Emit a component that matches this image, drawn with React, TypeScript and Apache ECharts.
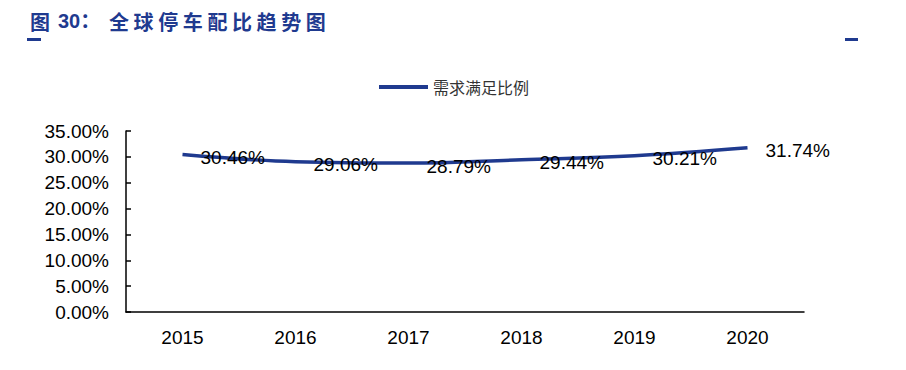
import React, { useEffect, useRef } from "react";
import * as echarts from "echarts";

const categories = ["2015", "2016", "2017", "2018", "2019", "2020"];
const ratioValues = [0.3046, 0.2906, 0.2879, 0.2944, 0.3021, 0.3174];
const seriesName = "需求满足比例";
const titleHead = "图";
const titleNum = "30：";
const titleChars = ["全", "球", "停", "车", "配", "比", "趋", "势", "图"];

const BLUE = "#1f3a8f";

export default function App() {
  const ref = useRef<HTMLDivElement>(null);
  useEffect(() => {
    if (!ref.current) return;
    const chart = echarts.init(ref.current, null, { renderer: "svg" });
    const titleFont = { fontSize: 20, fontWeight: "bold" as const, fill: BLUE, fontFamily: "Noto Sans CJK SC" };
    const titleEls: any[] = [
      { type: "text", x: 30, y: 11, style: { ...titleFont, text: titleHead } },
      { type: "text", x: 58, y: 11, style: { ...titleFont, text: titleNum, fontFamily: "Liberation Sans, Noto Sans CJK SC" } },
      ...titleChars.map((c, i) => ({ type: "text", x: 109 + i * 24.6, y: 11, style: { ...titleFont, text: c } })),
      { type: "rect", shape: { x: 27, y: 38, width: 14, height: 3 }, style: { fill: BLUE } },
      { type: "rect", shape: { x: 845, y: 38, width: 13, height: 3 }, style: { fill: BLUE } },
    ];
    chart.setOption({
      animation: false,
      graphic: titleEls,
      legend: {
        left: 374,
        top: 74,
        icon: "rect",
        itemWidth: 49,
        itemHeight: 4,
        textStyle: { fontSize: 16, color: "#333", fontFamily: "Noto Sans CJK SC" },
        data: [seriesName],
      },
      grid: { left: 126, right: 102, top: 131, bottom: 58 },
      xAxis: {
        type: "category",
        data: categories,
        boundaryGap: true,
        axisLine: { lineStyle: { color: "#000", width: 1.5 } },
        axisTick: { inside: true, length: 6, lineStyle: { color: "#000", width: 1.5 } },
        axisLabel: { fontSize: 19, color: "#000", fontFamily: "Liberation Sans", margin: 16 },
      },
      yAxis: {
        type: "value",
        min: 0,
        max: 0.35,
        interval: 0.05,
        splitLine: { show: false },
        axisLine: { show: true, lineStyle: { color: "#000", width: 1.5 } },
        axisTick: { show: true, inside: true, length: 5, lineStyle: { color: "#000", width: 1.5 } },
        axisLabel: {
          fontSize: 19,
          color: "#000",
          fontFamily: "Liberation Sans",
          margin: 17,
          formatter: (v: number) => (v * 100).toFixed(2) + "%",
        },
      },
      series: [
        {
          name: seriesName,
          type: "line",
          data: ratioValues,
          smooth: 0.4,
          showSymbol: true,
          symbol: "circle",
          symbolSize: 0,
          lineStyle: { color: BLUE, width: 3.5 },
          itemStyle: { color: BLUE },
          label: {
            show: true,
            position: "right",
            distance: 18,
            offset: [0, 3],
            fontSize: 19,
            color: "#000",
            fontFamily: "Liberation Sans",
            formatter: (p: any) => (p.value * 100).toFixed(2) + "%",
          },
        },
      ],
    });
    return () => chart.dispose();
  }, []);
  return <div ref={ref} style={{ width: 906, height: 370, position: "absolute", left: 0, top: 0 }} />;
}
